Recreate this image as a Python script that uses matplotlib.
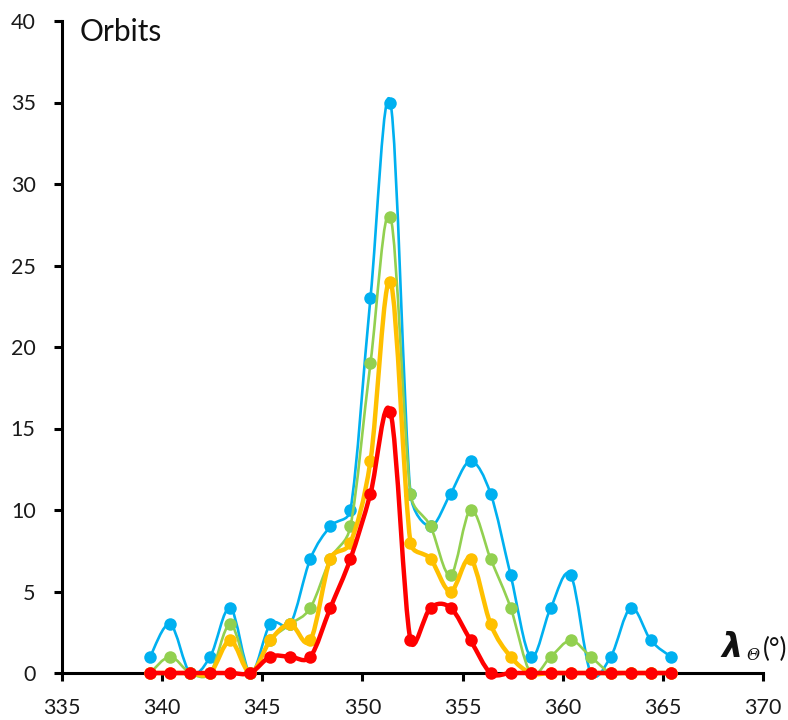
import numpy as np
import matplotlib
matplotlib.use("Agg")
import matplotlib.pyplot as plt
from matplotlib.path import Path
from matplotlib.patches import PathPatch

# Solar longitude of each bin (degrees)
lam = [339.4, 340.4, 341.4, 342.4, 343.4, 344.4, 345.4, 346.4, 347.4, 348.4,
       349.4, 350.4, 351.4, 352.4, 353.4, 354.4, 355.4, 356.4, 357.4, 358.4,
       359.4, 360.4, 361.4, 362.4, 363.4, 364.4, 365.4]

# Number of orbits per bin, one list per sample
orbits_blue = [1, 3, 0, 1, 4, 0, 3, 3, 7, 9, 10, 23, 35, 11, 9, 11, 13, 11, 6, 1,
               4, 6, 0, 1, 4, 2, 1]
orbits_green = [0, 1, 0, 0, 3, 0, 2, 3, 4, 7, 9, 19, 28, 11, 9, 6, 10, 7, 4, 0,
                1, 2, 1, 0, 0, 0, 0]
orbits_orange = [0, 0, 0, 0, 2, 0, 2, 3, 2, 7, 8, 13, 24, 8, 7, 5, 7, 3, 1, 0,
                 0, 0, 0, 0, 0, 0, 0]
orbits_red = [0, 0, 0, 0, 0, 0, 1, 1, 1, 4, 7, 11, 16, 2, 4, 4, 2, 0, 0, 0,
              0, 0, 0, 0, 0, 0, 0]

x_ticks = [335, 340, 345, 350, 355, 360, 365, 370]
y_ticks = [0, 5, 10, 15, 20, 25, 30, 35, 40]

X_RANGE = (335, 370)
Y_RANGE = (0, 40)


def smooth_path(x, y, sx, sy, tension=1 / 6):
    """Cubic Bezier through the points (spreadsheet-style smoothing).
    Control arms follow the neighbour chord, length tension*chord, capped at
    half the segment length; lengths measured in screen pixels."""
    pts = np.column_stack([x, y]).astype(float)
    scale = np.array([sx, sy])
    scr = pts * scale
    n = len(pts)

    def dist(a, b):
        return float(np.hypot(*(scr[a] - scr[b])))

    verts = [pts[0]]
    codes = [Path.MOVETO]
    for i in range(n - 1):
        i0, i1, i2, i3 = max(i - 1, 0), i, i + 1, min(i + 2, n - 1)
        d12 = dist(i1, i2)
        d02 = dist(i0, i2)
        d13 = dist(i1, i3)
        f0 = tension
        f1 = tension
        if d02 > 0 and d02 * tension > d12 / 2:
            f0 = d12 / (2 * d02)
        if d13 > 0 and d13 * tension > d12 / 2:
            f1 = d12 / (2 * d13)
        c1 = scr[i1] + (scr[i2] - scr[i0]) * f0
        c2 = scr[i2] - (scr[i3] - scr[i1]) * f1
        verts += [c1 / scale, c2 / scale, pts[i2]]
        codes += [Path.CURVE4] * 3
    return Path(verts, codes)


W, H = 788, 720
fig = plt.figure(figsize=(W / 100, H / 100), dpi=100)
ax = fig.add_axes([62 / W, 1 - 673 / H, 701 / W, 652 / H])
ax.set_xlim(*X_RANGE)
ax.set_ylim(*Y_RANGE)

px_per_x = 701 / (X_RANGE[1] - X_RANGE[0])
px_per_y = 652 / (Y_RANGE[1] - Y_RANGE[0])

series = [
    (orbits_blue, "#00B0F0", 1.9),
    (orbits_green, "#92D050", 1.9),
    (orbits_orange, "#FFC000", 3.2),
    (orbits_red, "#FF0000", 3.2),
]

for z, (vals, color, lw) in enumerate(series):
    patch = PathPatch(smooth_path(lam, vals, px_per_x, px_per_y),
                      facecolor="none", edgecolor=color, linewidth=lw,
                      capstyle="round", joinstyle="round",
                      zorder=2 + 2 * z, clip_on=False)
    ax.add_patch(patch)
    ax.plot(lam, vals, linestyle="none", marker="o", markersize=9,
            color=color, markeredgewidth=0, zorder=3 + 2 * z, clip_on=False)

ax.set_xticks(x_ticks)
ax.set_yticks(y_ticks)

font = "Lato"
for lbl in ax.get_xticklabels() + ax.get_yticklabels():
    lbl.set_fontfamily(font)
    lbl.set_fontsize(15.5)

ax.spines["top"].set_visible(False)
ax.spines["right"].set_visible(False)
for side in ("left", "bottom"):
    ax.spines[side].set_linewidth(2.2)
    ax.spines[side].set_color("black")
ax.tick_params(axis="both", direction="out", length=6, width=2.2, colors="black",
               labelcolor="#1a1a1a")
ax.tick_params(axis="x", pad=12)
ax.tick_params(axis="y", pad=13)

fig.text(80 / W, 1 - 18 / H, "Orbits", ha="left", va="top",
         fontsize=21.5, fontfamily=font, color="#111111")

# axis title: lambda with a sun subscript, then the unit
fig.text(721 / W, 1 - 657 / H, "λ", ha="left", va="baseline",
         fontsize=24, fontfamily="DejaVu Sans", fontweight="bold",
         fontstyle="italic", color="#111111")
fig.text(746 / W, 1 - 660 / H, "Θ", ha="left", va="baseline",
         fontsize=11.5, fontfamily="DejaVu Serif", fontstyle="italic",
         color="#111111")
fig.text(787 / W, 1 - 657 / H, "(°)", ha="right", va="baseline",
         fontsize=18.5, fontfamily=font, color="#111111")

fig.savefig("out.png", dpi=100)
